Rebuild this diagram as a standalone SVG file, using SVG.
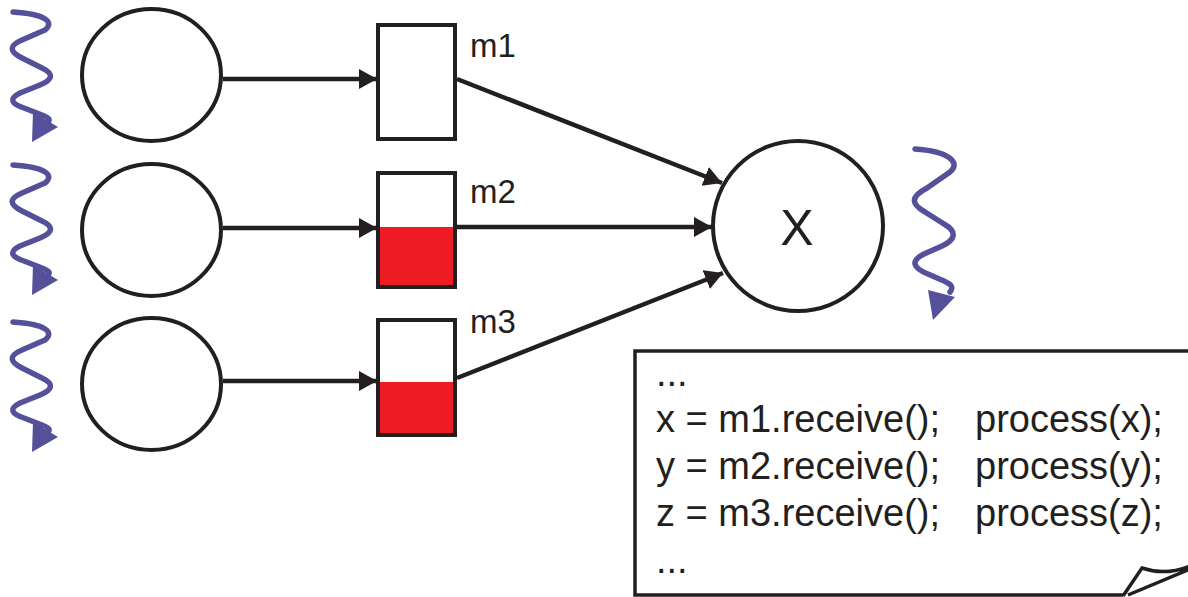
<svg xmlns="http://www.w3.org/2000/svg" width="1188" height="597" viewBox="0 0 1188 597">
<style>
.node{fill:#fff;stroke:#231f20;stroke-width:4}
.fill{fill:#ed1c24;stroke:none}
.conn{stroke:#231f20;stroke-width:4.5;fill:none}
.wave{fill:none;stroke:#55509a;stroke-width:5.5;stroke-linecap:round;stroke-linejoin:round}
.head{fill:#55509a}
.lbl{font-family:"Liberation Sans",Arial,sans-serif;fill:#231f20}
.code{font-size:38px}
.note{fill:#fff;stroke:#231f20;stroke-width:3.5}
</style>
<defs>
<marker id="arr" markerUnits="userSpaceOnUse" markerWidth="20" markerHeight="22" refX="18" refY="10" orient="auto">
<path d="M0,0 L18,10 L0,20 z" fill="#231f20"/>
</marker>
<g id="wv">
<path class="wave" d="M13,12 C45,14 55,22 45,30 L22,40 C8,46 10,52 22,58 L42,68 C55,74 52,80 40,85 L20,93 C8,99 12,104 24,108 L42,115 C50,118 50,120 48,122"/>
<polygon class="head" points="33,112 58,127 32,142"/>
</g>
</defs>

<g id="wave1"><use href="#wv"/></g>
<g id="wave2"><use href="#wv" transform="translate(0,153)"/></g>
<g id="wave3"><use href="#wv" transform="translate(0,310)"/></g>

<g id="p1"><ellipse class="node" cx="151.5" cy="75" rx="69.5" ry="66"/></g>
<g id="p2"><ellipse class="node" cx="151.5" cy="230" rx="69.5" ry="66"/></g>
<g id="p3"><ellipse class="node" cx="151.5" cy="384" rx="69.5" ry="66"/></g>

<g id="m1">
<rect class="node" x="378" y="25" width="77" height="114"/>
<text class="lbl" x="470" y="57" font-size="33">m1</text>
</g>
<g id="m2">
<rect class="node" x="378" y="173" width="77" height="114"/>
<rect class="fill" x="380" y="227" width="73" height="58"/>
<text class="lbl" x="470" y="203" font-size="33">m2</text>
</g>
<g id="m3">
<rect class="node" x="378" y="320" width="77" height="115"/>
<rect class="fill" x="380" y="382" width="73" height="51"/>
<text class="lbl" x="470" y="333" font-size="33">m3</text>
</g>

<g id="x">
<circle class="node" cx="798" cy="226" r="85"/>
<text class="lbl" x="797" y="245" font-size="50" text-anchor="middle">X</text>
</g>

<g id="waveX">
<path class="wave" d="M915,149 C947,151 962,162 950,172 L927,188 C910,197 911,204 925,212 L944,224 C958,232 955,240 942,246 L924,254 C910,261 913,268 928,274 L944,281 C953,285 953,288 950,292"/>
<polygon class="head" points="928,290 955,297 933,320"/>
</g>

<g id="connectors">
<line class="conn" x1="223" y1="79" x2="377" y2="79" marker-end="url(#arr)"/>
<line class="conn" x1="223" y1="228" x2="377" y2="228" marker-end="url(#arr)"/>
<line class="conn" x1="223" y1="381" x2="377" y2="381" marker-end="url(#arr)"/>
<line class="conn" x1="457" y1="79" x2="722" y2="183" marker-end="url(#arr)"/>
<line class="conn" x1="457" y1="227" x2="712" y2="227" marker-end="url(#arr)"/>
<line class="conn" x1="457" y1="378" x2="723" y2="273" marker-end="url(#arr)"/>
</g>

<g id="note">
<path class="note" d="M1190,351 L635,351 L635,595 L1123,595"/>
<path class="note" fill="none" d="M1123,596 L1142,568 Q1165,576 1190,566 M1190,569 L1128,595"/>
<text class="lbl code" x="656" y="386">...</text>
<text class="lbl code" x="656" y="432">x = m1.receive();</text>
<text class="lbl code" x="975" y="432">process(x);</text>
<text class="lbl code" x="656" y="479">y = m2.receive();</text>
<text class="lbl code" x="975" y="479">process(y);</text>
<text class="lbl code" x="656" y="526">z = m3.receive();</text>
<text class="lbl code" x="975" y="526">process(z);</text>
<text class="lbl code" x="656" y="573">...</text>
</g>
</svg>
